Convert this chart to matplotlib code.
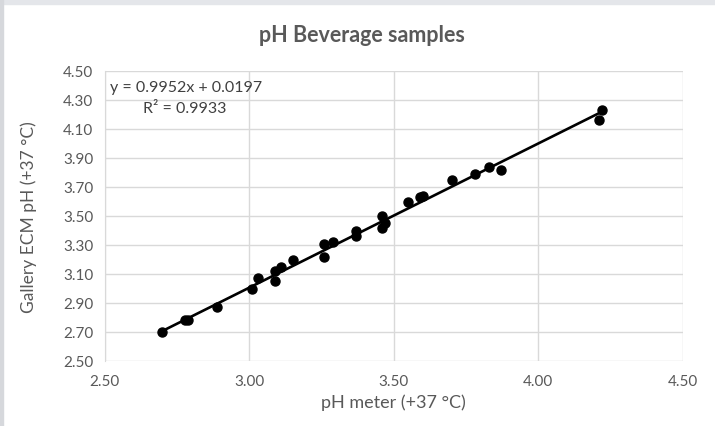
import matplotlib.pyplot as plt
from matplotlib.patches import Rectangle
import numpy as np

# pH meter readings (x) and Gallery ECM readings (y), both at +37 °C
ph_meter = [2.70, 2.78, 2.79, 2.89, 3.01, 3.03, 3.09, 3.09, 3.11, 3.15,
            3.26, 3.26, 3.29, 3.37, 3.37, 3.46, 3.46, 3.47, 3.55, 3.59,
            3.60, 3.70, 3.78, 3.83, 3.87, 4.21, 4.22]
gallery_ecm = [2.70, 2.78, 2.78, 2.87, 3.00, 3.07, 3.12, 3.05, 3.15, 3.20,
               3.31, 3.22, 3.32, 3.36, 3.40, 3.50, 3.42, 3.45, 3.60, 3.63,
               3.64, 3.75, 3.79, 3.84, 3.82, 4.16, 4.23]

# trendline shown on the chart
slope = 0.9952
intercept = 0.0197
r2 = 0.9933

x_ticks = [2.50, 3.00, 3.50, 4.00, 4.50]
y_ticks = [2.50, 2.70, 2.90, 3.10, 3.30, 3.50, 3.70, 3.90, 4.10, 4.30, 4.50]

plt.rcParams['font.family'] = ['Lato', 'DejaVu Sans']
text_col = '#595959'
grid_col = '#d9d9d9'

fig = plt.figure(figsize=(7.15, 4.27), dpi=100)
fig.patch.set_facecolor('white')
# grey frame of the screenshot
fig.patches.append(Rectangle((0, 1 - 5 / 427), 1, 5 / 427, transform=fig.transFigure,
                             color='#e4e6ea', zorder=0))
fig.patches.append(Rectangle((0, 0), 3 / 715, 1, transform=fig.transFigure,
                             color='#d6d8dc', zorder=0))

ax = fig.add_axes([104.5 / 715, 1 - 362 / 427, (683 - 104.5) / 715, 290 / 427])

xs = np.array([min(ph_meter), max(ph_meter)])
ax.plot(xs, slope * xs + intercept, color='black', lw=1.9, zorder=3)
ax.plot(ph_meter, gallery_ecm, 'o', color='black', ms=6.5, zorder=4)

ax.set_xlim(2.5, 4.5)
ax.set_ylim(2.5, 4.5)
ax.set_xticks(x_ticks)
ax.set_yticks(y_ticks)
ax.set_xticklabels([f'{v:.2f}' for v in x_ticks])
ax.set_yticklabels([f'{v:.2f}' for v in y_ticks])
ax.grid(True, color=grid_col, lw=1)
ax.set_axisbelow(True)
for s in ax.spines.values():
    s.set_visible(False)
ax.spines['left'].set_visible(True)
ax.spines['left'].set_color(grid_col)
ax.tick_params(length=0, colors=text_col, labelsize=11)
ax.tick_params(axis='x', pad=9)
ax.tick_params(axis='y', pad=8)

ax.set_xlabel('pH meter (+37 °C)', color=text_col, fontsize=13, labelpad=4)
ax.set_ylabel('Gallery ECM pH (+37 °C)', color=text_col, fontsize=12.5, labelpad=19)
fig.text(362 / 715, 1 - 35 / 427, 'pH Beverage samples', ha='center', va='center',
         color=text_col, fontsize=15.5, fontweight='bold')

fig.text(110 / 715, 1 - 88 / 427, f'y = {slope}x + {intercept}', ha='left', va='center',
         color='#404040', fontsize=11.5)
fig.text(185 / 715, 1 - 109 / 427, f'R² = {r2}', ha='center', va='center',
         color='#404040', fontsize=11.5)

fig.savefig('out.png', dpi=100)
